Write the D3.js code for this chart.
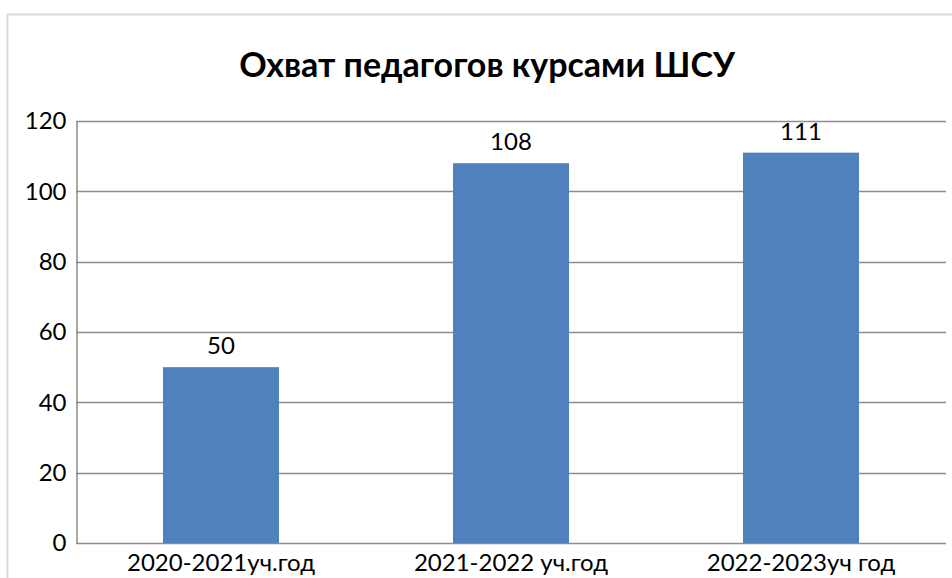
<!DOCTYPE html>
<html><head><meta charset="utf-8">
<script src="https://cdn.jsdelivr.net/npm/d3@7"></script>
<style>body{margin:0;background:#fff}svg{display:block}text{font-family:Lato,"Open Sans",sans-serif;fill:#000}</style>
</head><body>
<svg id="c" width="952" height="578"></svg>
<script>
const categories = ["2020-2021уч.год", "2021-2022 уч.год", "2022-2023уч год"];
const values = [50, 108, 111];
const yTicks = [0, 20, 40, 60, 80, 100, 120];
const title = "Охват педагогов курсами ШСУ";

const svg = d3.select("#c");
const m = {left: 76, right: 946, top: 121, bottom: 543};

// outer frame
svg.append("path").attr("d", "M7.5,578 V14.5 H952").attr("fill", "none").attr("stroke", "#d9d9d9").attr("stroke-width", 2);

const x = d3.scaleBand().domain(categories).range([m.left, m.right]).padding(0);
const y = d3.scaleLinear().domain([0, 120]).range([m.bottom, m.top]);

// gridlines
svg.append("g").selectAll("line").data(yTicks).join("line")
  .attr("x1", m.left).attr("x2", m.right)
  .attr("y1", d => Math.round(y(d)) + 0.5).attr("y2", d => Math.round(y(d)) + 0.5)
  .attr("stroke", "#8c8c8c").attr("stroke-width", 1.5);

// y axis
const yAxis = d3.axisLeft(y).tickValues(yTicks).tickSize(0).tickPadding(10);
const gy = svg.append("g").attr("transform", `translate(${m.left + 0.5},0)`).call(yAxis);
gy.select(".domain").attr("stroke", "#8c8c8c").attr("stroke-width", 1.5);
gy.selectAll("text").style("font-size", "24px").style("font-family", "Lato").attr("fill", "#000");

// bars
const bw = x.bandwidth() * 0.4;
svg.append("g").selectAll("rect").data(values).join("rect")
  .attr("x", (d, i) => x(categories[i]) + (x.bandwidth() - bw) / 2)
  .attr("width", bw)
  .attr("y", d => y(d))
  .attr("height", d => y(0) - y(d))
  .attr("fill", "#4f81bd");

// data labels
svg.append("g").selectAll("text").data(values).join("text")
  .attr("x", (d, i) => x(categories[i]) + x.bandwidth() / 2)
  .attr("y", d => y(d) - 13)
  .attr("text-anchor", "middle")
  .style("font-size", "24px")
  .text(d => d);

// x axis labels
const xAxis = d3.axisBottom(x).tickSize(0).tickPadding(11);
const gx = svg.append("g").attr("transform", `translate(0,${m.bottom})`).call(xAxis);
gx.select(".domain").remove();
gx.selectAll("text").style("font-size", "24px").style("font-family", "Lato").attr("fill", "#000");

// title
svg.append("text").attr("x", 487).attr("y", 77).attr("text-anchor", "middle")
  .style("font-size", "34px").style("font-weight", "bold").text(title);
</script>
</body></html>
